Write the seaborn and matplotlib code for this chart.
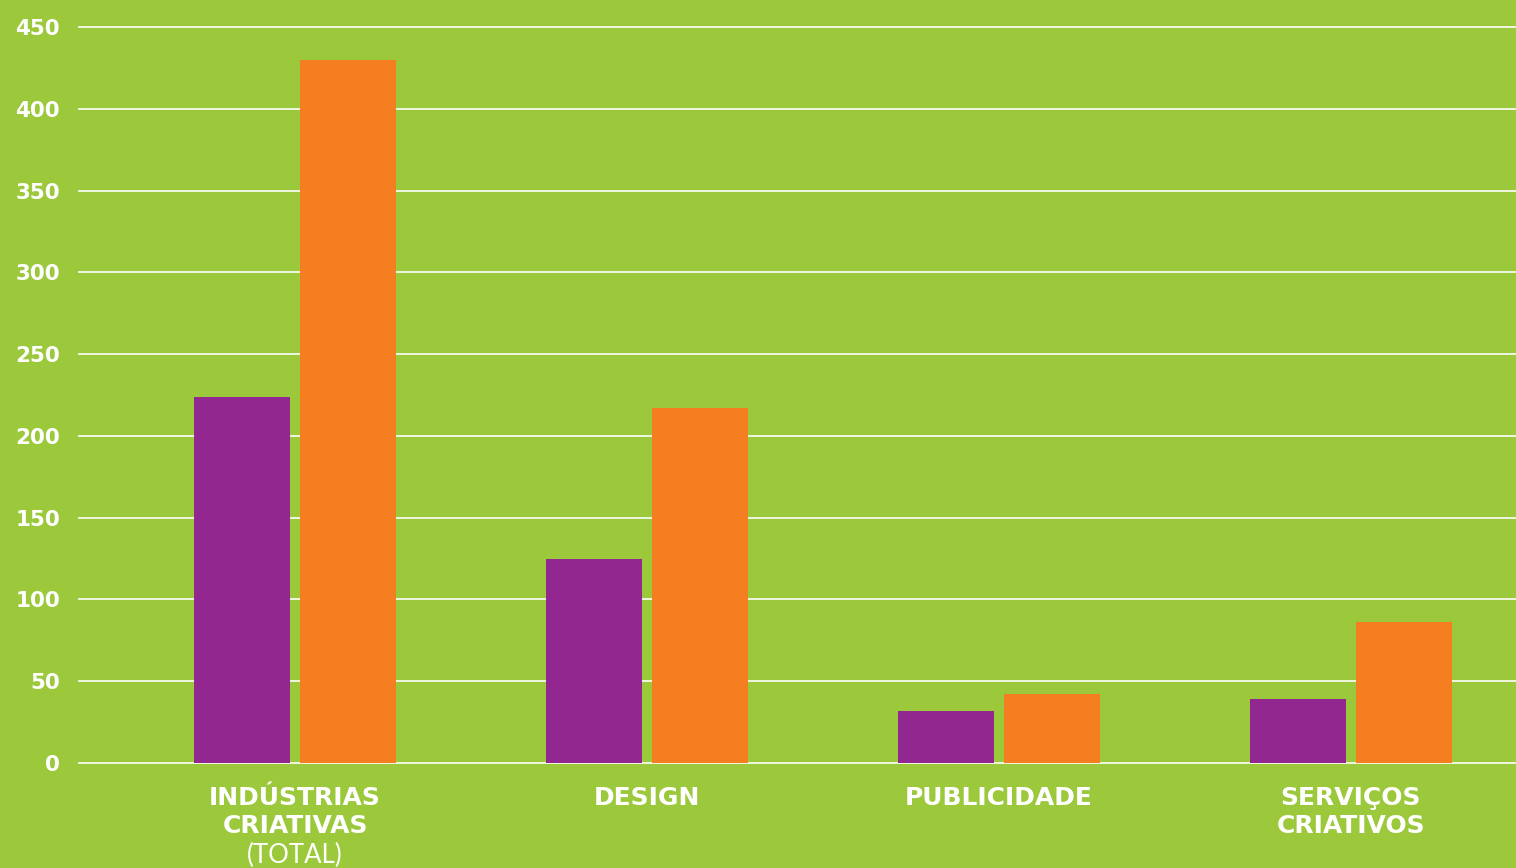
import pandas as pd
import matplotlib.pyplot as plt
import seaborn as sns

# values
categorias = ['INDÚSTRIAS\nCRIATIVAS', 'DESIGN', 'PUBLICIDADE', 'SERVIÇOS\nCRIATIVOS']
serie_1 = [224, 125, 32, 39]
serie_2 = [430, 217, 42, 86]
series = ['série 1', 'série 2']
yticks = [0, 50, 100, 150, 200, 250, 300, 350, 400, 450]

VERDE = '#9BC93B'
ROXO = '#92278F'
LARANJA = '#F47E20'

df = pd.DataFrame({
    'categoria': categorias * 2,
    'valor': serie_1 + serie_2,
    'serie': [series[0]] * len(categorias) + [series[1]] * len(categorias),
})

sns.set_style('white')
plt.rcParams['font.family'] = ['DejaVu Sans']

fig = plt.figure(figsize=(15.16, 8.68), dpi=100, facecolor=VERDE)
# axes placed so 0 sits at y=763px and 450 at y=27px
px_unit = (763 - 27) / 450
y0, y1 = -2, 452
bottom_px = 763 + (0 - y0) * px_unit
top_px = 27 - (y1 - 450) * px_unit
ax = fig.add_axes([78 / 1516, 1 - bottom_px / 868, 1 - 78 / 1516, (bottom_px - top_px) / 868])
ax.set_facecolor(VERDE)

sns.barplot(data=df, x='categoria', y='valor', hue='serie',
            palette=[ROXO, LARANJA], width=0.602, gap=0.094,
            saturation=1, legend=False, linewidth=0, ax=ax, zorder=3)

ax.set_xlim(-(295 - 78) / 352, 3 + (1516 - 1351) / 352)
ax.set_ylim(y0, y1)
ax.set_yticks(yticks)
ax.yaxis.grid(True, color='white', linewidth=1.2, zorder=0)
ax.set_axisbelow(True)
for s in ax.spines.values():
    s.set_visible(False)

ax.set_xlabel('')
ax.set_ylabel('')
ax.tick_params(axis='both', length=0)
ax.tick_params(axis='y', pad=13, labelsize=15.5, labelcolor='white')
ax.tick_params(axis='x', pad=14, labelsize=18, labelcolor='white')
for lbl in ax.get_yticklabels():
    lbl.set_fontweight('heavy')
for lbl in ax.get_xticklabels():
    lbl.set_fontweight('heavy')
    lbl.set_linespacing(1.2)

ax.annotate('(TOTAL)', xy=(0, 0), xycoords=('data', 'figure pixels'),
            xytext=(0, 868 - 855), textcoords=('data', 'figure pixels'),
            ha='center', va='center', color='white', fontsize=18.5,
            family=['Lato', 'DejaVu Sans'], fontweight='normal')

fig.savefig('out.png', dpi=100, facecolor=VERDE)
